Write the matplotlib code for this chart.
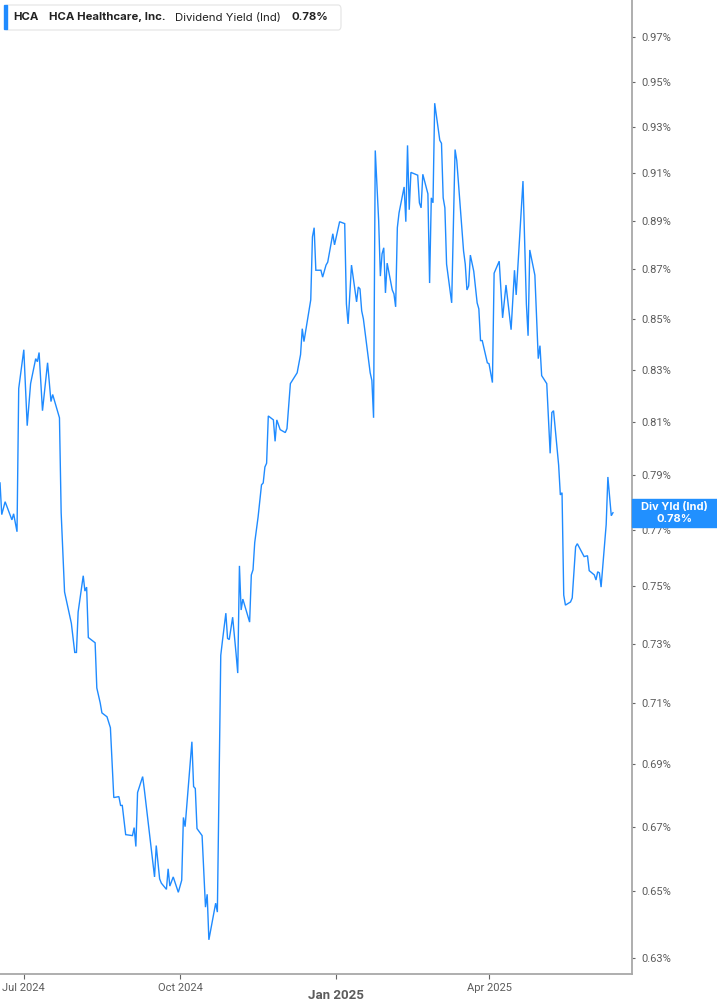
import numpy as np
import pandas as pd
import matplotlib
matplotlib.use('Agg')
import matplotlib.pyplot as plt
from matplotlib.patches import FancyBboxPatch, Rectangle
from matplotlib.ticker import FixedLocator, FixedFormatter, NullLocator


line_blue  = '#1f8bff'
tag_blue   = '#2190ff'
axis_grey  = '#a8a8a8'
label_grey = '#5c5c5c'
text_dark  = '#222222'

ticker  = 'HCA'
company = 'HCA Healthcare, Inc.'
metric  = 'Dividend Yield (Ind)'
tag     = 'Div Yld (Ind)'
latest  = '0.78%'

# dividend yield (%)
dates = [
    # Jun / Jul 2024
    '2024-06-17', '2024-06-18', '2024-06-20', '2024-06-24', '2024-06-25', '2024-06-27', '2024-06-28',
    '2024-07-01', '2024-07-03', '2024-07-05', '2024-07-08', '2024-07-09', '2024-07-10', '2024-07-12',
    '2024-07-15', '2024-07-17', '2024-07-18', '2024-07-22', '2024-07-23', '2024-07-25', '2024-07-29',
    '2024-07-31',
    # Aug
    '2024-08-01', '2024-08-02', '2024-08-05', '2024-08-06', '2024-08-07', '2024-08-08', '2024-08-12',
    '2024-08-13', '2024-08-15', '2024-08-16', '2024-08-19', '2024-08-21', '2024-08-23', '2024-08-26',
    '2024-08-27', '2024-08-28', '2024-08-30',
    # Sep
    '2024-09-03', '2024-09-04', '2024-09-05', '2024-09-06', '2024-09-09', '2024-09-10', '2024-09-16',
    '2024-09-17', '2024-09-19', '2024-09-20', '2024-09-23', '2024-09-24', '2024-09-25', '2024-09-27',
    '2024-09-30',
    # Oct
    '2024-10-02', '2024-10-03', '2024-10-04', '2024-10-08', '2024-10-09', '2024-10-10', '2024-10-11',
    '2024-10-14', '2024-10-16', '2024-10-17', '2024-10-18', '2024-10-22', '2024-10-23', '2024-10-25',
    '2024-10-26', '2024-10-28', '2024-10-29', '2024-10-30',
    # Nov
    '2024-11-01', '2024-11-03', '2024-11-04', '2024-11-05', '2024-11-06', '2024-11-07', '2024-11-11',
    '2024-11-12', '2024-11-13', '2024-11-14', '2024-11-16', '2024-11-18', '2024-11-19', '2024-11-20',
    '2024-11-21', '2024-11-22', '2024-11-25', '2024-11-26', '2024-11-27', '2024-11-29',
    # Dec
    '2024-12-02', '2024-12-03', '2024-12-05', '2024-12-09', '2024-12-11', '2024-12-12', '2024-12-13',
    '2024-12-15', '2024-12-17', '2024-12-18', '2024-12-19', '2024-12-20', '2024-12-23', '2024-12-24',
    '2024-12-26', '2024-12-27', '2024-12-30', '2024-12-31',
    # Jan 2025
    '2025-01-03', '2025-01-06', '2025-01-07', '2025-01-08', '2025-01-10', '2025-01-13', '2025-01-14',
    '2025-01-15', '2025-01-16', '2025-01-17', '2025-01-21', '2025-01-22', '2025-01-23', '2025-01-24',
    '2025-01-26', '2025-01-27', '2025-01-28', '2025-01-29', '2025-01-30', '2025-01-31',
    # Feb
    '2025-02-03', '2025-02-04', '2025-02-05', '2025-02-06', '2025-02-07', '2025-02-10', '2025-02-11',
    '2025-02-12', '2025-02-13', '2025-02-14', '2025-02-18', '2025-02-19', '2025-02-20', '2025-02-21',
    '2025-02-24', '2025-02-25', '2025-02-26', '2025-02-27', '2025-02-28',
    # Mar
    '2025-03-03', '2025-03-04', '2025-03-05', '2025-03-06', '2025-03-07', '2025-03-10', '2025-03-12',
    '2025-03-13', '2025-03-17', '2025-03-18', '2025-03-19', '2025-03-20', '2025-03-21', '2025-03-23',
    '2025-03-25', '2025-03-26', '2025-03-27', '2025-03-28', '2025-03-31',
    # Apr
    '2025-04-01', '2025-04-03', '2025-04-04', '2025-04-07', '2025-04-09', '2025-04-11', '2025-04-14',
    '2025-04-16', '2025-04-17', '2025-04-21', '2025-04-23', '2025-04-24', '2025-04-25', '2025-04-28',
    '2025-04-30',
    # May
    '2025-05-01', '2025-05-02', '2025-05-05', '2025-05-07', '2025-05-08', '2025-05-09', '2025-05-12',
    '2025-05-13', '2025-05-14', '2025-05-15', '2025-05-16', '2025-05-19', '2025-05-20', '2025-05-22',
    '2025-05-23', '2025-05-27', '2025-05-29', '2025-05-30',
    # Jun
    '2025-06-02', '2025-06-03', '2025-06-04', '2025-06-05', '2025-06-06', '2025-06-09', '2025-06-10',
    '2025-06-12', '2025-06-13',
]

yields = [
    # Jun / Jul 2024
    0.7871, 0.7755, 0.7802, 0.7736, 0.7758, 0.7693, 0.8227,
    0.8378, 0.8085, 0.8246, 0.8343, 0.8331, 0.8367, 0.8142,
    0.8327, 0.8177, 0.8204, 0.8115, 0.7762, 0.7479, 0.7370,
    0.7270,
    # Aug
    0.7270, 0.7409, 0.7536, 0.7482, 0.7496, 0.7321, 0.7303,
    0.7150, 0.7100, 0.7067, 0.7054, 0.7018, 0.6792, 0.6795,
    0.6767, 0.6767, 0.6675,
    # Sep
    0.6672, 0.6697, 0.6638, 0.6808, 0.6859, 0.6817, 0.6544,
    0.6641, 0.6538, 0.6525, 0.6506, 0.6569, 0.6516, 0.6544,
    0.6497,
    # Oct
    0.6534, 0.6729, 0.6700, 0.6972, 0.6827, 0.6821, 0.6694,
    0.6672, 0.6452, 0.6491, 0.6354, 0.6464, 0.6437, 0.7260,
    0.7310, 0.7405, 0.7318, 0.7314,
    # Nov
    0.7391, 0.7267, 0.7200, 0.7571, 0.7416, 0.7454, 0.7374,
    0.7539, 0.7557, 0.7654, 0.7747, 0.7864, 0.7871, 0.7930,
    0.7944, 0.8122, 0.8107, 0.8026, 0.8107, 0.8070,
    # Dec
    0.8059, 0.8074, 0.8246, 0.8288, 0.8359, 0.8461, 0.8410,
    0.8492, 0.8576, 0.8833, 0.8871, 0.8696, 0.8696, 0.8668,
    0.8717, 0.8729, 0.8846, 0.8800,
    # Jan 2025
    0.8896, 0.8888, 0.8560, 0.8480, 0.8717, 0.8568, 0.8628,
    0.8620, 0.8532, 0.8500, 0.8288, 0.8258, 0.8115, 0.9198,
    0.8900, 0.8672, 0.8763, 0.8788, 0.8604, 0.8725,
    # Feb
    0.8616, 0.8600, 0.8548, 0.8871, 0.8933, 0.9042, 0.8896,
    0.9220, 0.8946, 0.9104, 0.9092, 0.8975, 0.8954, 0.9096,
    0.9013, 0.8644, 0.8996, 0.8975, 0.9404,
    # Mar
    0.9242, 0.9229, 0.8996, 0.8954, 0.8721, 0.8564, 0.9202,
    0.9155, 0.8775, 0.8721, 0.8616, 0.8632, 0.8758, 0.8692,
    0.8564, 0.8540, 0.8414, 0.8414, 0.8327,
    # Apr
    0.8323, 0.8250, 0.8684, 0.8733, 0.8504, 0.8636, 0.8457,
    0.8696, 0.8596, 0.9067, 0.8560, 0.8433, 0.8779, 0.8676,
    0.8343,
    # May
    0.8394, 0.8277, 0.8246, 0.7981, 0.8135, 0.8142, 0.7937,
    0.7827, 0.7835, 0.7468, 0.7433, 0.7444, 0.7458, 0.7639,
    0.7650, 0.7604, 0.7607, 0.7554,
    # Jun
    0.7539, 0.7521, 0.7550, 0.7546, 0.7496, 0.7719, 0.7893,
    0.7751, 0.7762,
]

y_ticks   = [0.63, 0.65, 0.67, 0.69, 0.71, 0.73, 0.75, 0.77, 0.79,
             0.81, 0.83, 0.85, 0.87, 0.89, 0.91, 0.93, 0.95, 0.97]
x_ticks   = ['2024-07-01', '2024-10-01', '2025-01-01', '2025-04-01']
x_labels  = ['Jul 2024', 'Oct 2024', 'Jan 2025', 'Apr 2025']


def px_x(p):
    return p / 717


def px_y(p):
    return 1 - p / 1005


def main():
    assert len(dates) == len(yields)
    t = pd.to_datetime(dates)

    fig = plt.figure(figsize=(7.17, 10.05), dpi=100)
    ax = fig.add_axes([0, px_y(974), px_x(632), 974 / 1005])

    ax.plot(t, yields, color=line_blue, lw=1.0, solid_joinstyle='miter')

    ax.set_yscale('log')
    ax.set_ylim(0.6253, 0.9870)
    ax.set_xlim(pd.Timestamp('2024-06-16 23:30'), pd.Timestamp('2025-06-24 05:00'))

    ax.yaxis.set_major_locator(FixedLocator(y_ticks))
    ax.yaxis.set_major_formatter(FixedFormatter(['%.2f%%' % v for v in y_ticks]))
    ax.yaxis.set_minor_locator(NullLocator())
    ax.yaxis.tick_right()
    ax.tick_params(axis='y', which='major', length=2.5, width=0.8, color='#666666',
                   pad=4, labelsize=8, labelcolor=label_grey)

    ax.set_xticks(pd.to_datetime(x_ticks))
    ax.set_xticklabels(x_labels)
    ax.tick_params(axis='x', length=3.5, width=0.8, color='#666666', pad=3,
                   labelsize=8, labelcolor=label_grey)
    for lab in ax.get_xticklabels():
        lab.set_family('Roboto')
        if lab.get_text() == 'Jan 2025':
            lab.set_fontweight('bold')
            lab.set_fontsize(9.5)
            lab.set_y(-0.006)
    for lab in ax.get_yticklabels():
        lab.set_family('Roboto')

    for s in ['left', 'top']:
        ax.spines[s].set_visible(False)
    for s in ['right', 'bottom']:
        ax.spines[s].set_color(axis_grey)
        ax.spines[s].set_linewidth(1.3)
    ax.set_facecolor('white')

    # header box
    box = FancyBboxPatch((px_x(5), px_y(30)), px_x(336), 25 / 1005,
                         boxstyle='round,pad=0,rounding_size=0.004',
                         transform=fig.transFigure, facecolor='white',
                         edgecolor='#e4e4e4', lw=0.8, zorder=5)
    fig.patches.append(box)
    fig.patches.append(Rectangle((px_x(4), px_y(29)), px_x(3), 24 / 1005,
                                 transform=fig.transFigure, color=line_blue, zorder=6))
    yc = px_y(17.5)
    hdr = dict(fontsize=8.2, color=text_dark, family='Inter', va='center', zorder=7)
    fig.text(px_x(13), yc, ticker, fontweight='bold', **hdr)
    fig.text(px_x(49), yc, company, fontweight='bold', **hdr)
    fig.text(px_x(175), yc, metric, **hdr)
    fig.text(px_x(292), yc, latest, fontweight='bold', **hdr)

    # last value tag on the right axis
    y_disp = ax.transData.transform((ax.get_xlim()[0], yields[-1]))[1]
    y_tag = fig.transFigure.inverted().transform((0, y_disp))[1]
    fig.patches.append(Rectangle((px_x(632), y_tag - 14 / 1005), px_x(85), 28 / 1005,
                                 transform=fig.transFigure, color=tag_blue, zorder=6))
    fig.text(px_x(674.5), y_tag + 5.5 / 1005, tag, fontsize=8, fontweight='bold',
             color='white', family='Inter', ha='center', va='center', zorder=7)
    fig.text(px_x(674.5), y_tag - 6 / 1005, latest, fontsize=8, fontweight='bold',
             color='white', family='Inter', ha='center', va='center', zorder=7)

    fig.savefig('out.png', dpi=100, facecolor='white')
    plt.close(fig)


if __name__ == '__main__':
    main()
